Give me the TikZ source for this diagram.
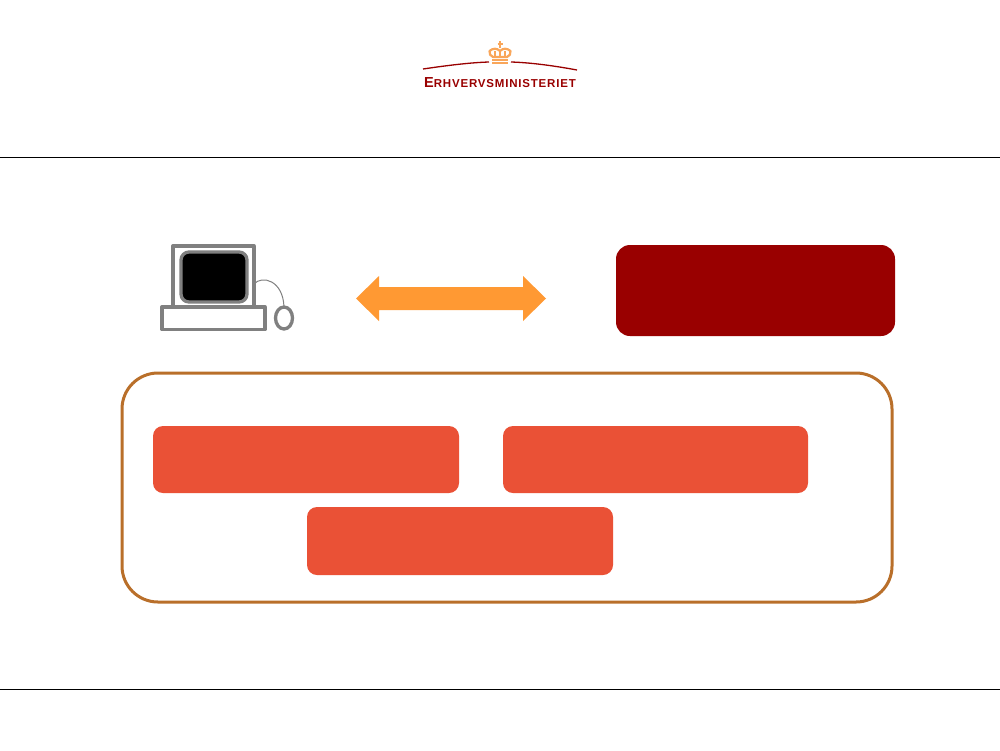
\documentclass[tikz,border=0pt]{standalone}
\usepackage{fontspec}
\setmainfont{Liberation Sans}
\definecolor{darkred}{HTML}{990000}
\definecolor{boxred}{HTML}{EA5136}
\definecolor{frameor}{HTML}{B96F2A}
\definecolor{arrowor}{HTML}{FF9933}
\definecolor{pcgray}{HTML}{808080}
\definecolor{crown}{HTML}{F9A65A}
\tikzset{
  x=1pt,y=-1pt,
  rulel/.style={draw=black,line width=0.75pt},
  pcline/.style={draw=pcgray,line width=3.3pt,line join=round},
  redbox/.style={fill=boxred,rounded corners=10pt},
  crownline/.style={draw=crown,line width=2.2pt,line join=round},
  swoosh/.style={draw=darkred,line width=1.3pt}
}
\begin{document}
\begin{tikzpicture}
\useasboundingbox (0,0) rectangle (1000,750);
\fill[white] (0,0) rectangle (1000,750);
% rules
\draw[rulel] (0,157.5) -- (1000,157.5);
\draw[rulel] (0,689.5) -- (1000,689.5);
% logo
\draw[swoosh] (423,69) .. controls (450,65) and (472,62.5) .. (489,62);
\draw[swoosh] (511,62) .. controls (528,62.5) and (550,65) .. (577,70);
\draw[crownline] (489.5,51) .. controls (488.5,54) and (491,56) .. (493,57) -- (507,57) .. controls (509,56) and (511.5,54) .. (510.5,51) .. controls (507,48) and (503,48) .. (500,51) .. controls (497,48) and (493,48) .. (489.5,51) -- cycle;
\draw[crownline,line width=1.3pt] (495,51) -- (495,56) (500,51) -- (500,56) (505,51) -- (505,56);
\draw[crownline,line width=1.6pt] (500,41) -- (500,48) (497.5,44) -- (502.5,44);
\fill[crown] (492,58.5) rectangle (508,60.5);
\fill[crown] (492,61.5) rectangle (508,63.5);
\node[text=darkred,font=\bfseries,inner sep=0pt,anchor=base] (logo) at (500,87)
  {\fontsize{14.5}{14.5}\selectfont E\fontsize{11.5}{11.5}\selectfont\addfontfeature{LetterSpace=7}RHVERVSMINISTERIET};
% computer
\draw[pcline] (173,246) rectangle (254,307);
\draw[pcline,fill=black,rounded corners=8pt] (181,252) rectangle (247,302);
\draw[pcline,fill=white] (162,307) rectangle (265,329.5);
\draw[draw=pcgray,line width=1pt] (254,284) .. controls (262,275) and (283,280) .. (284,307);
\draw[pcline,fill=white] (284,318) ellipse [x radius=8.5,y radius=11];
% double arrow
\fill[arrowor] (356,298.5) -- (379,276) -- (379,287) -- (523,287) -- (523,276) -- (546,298.5) -- (523,321) -- (523,310) -- (379,310) -- (379,321) -- cycle;
% top right box
\fill[darkred,rounded corners=14pt] (616,245) rectangle (895,336);
% frame
\draw[draw=frameor,line width=3pt,rounded corners=36pt] (122,373) rectangle (892,602);
% boxes
\fill[redbox] (153,426) rectangle (459,493);
\fill[redbox] (503,426) rectangle (808,493);
\fill[redbox] (307,507) rectangle (613,575);
\end{tikzpicture}
\end{document}
